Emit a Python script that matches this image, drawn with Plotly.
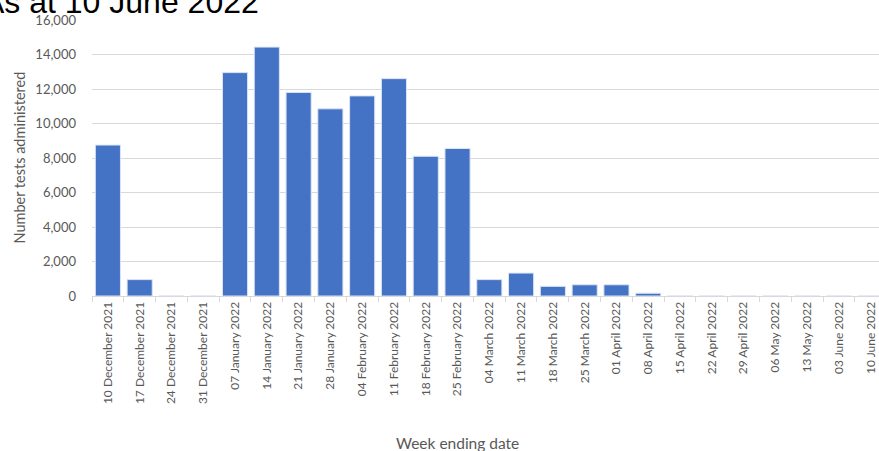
import plotly.graph_objects as go

weeks = ["10 December 2021", "17 December 2021", "24 December 2021", "31 December 2021",
         "07 January 2022", "14 January 2022", "21 January 2022", "28 January 2022",
         "04 February 2022", "11 February 2022", "18 February 2022", "25 February 2022",
         "04 March 2022", "11 March 2022", "18 March 2022", "25 March 2022",
         "01 April 2022", "08 April 2022", "15 April 2022", "22 April 2022",
         "29 April 2022", "06 May 2022", "13 May 2022", "03 June 2022", "10 June 2022"]
tests = [8750, 950, 0, 0,
         12950, 14430, 11800, 10850,
         11600, 12600, 8100, 8550,
         950, 1330, 560, 650,
         650, 160, 0, 0,
         0, 0, 0, 0, 0]
title_text = "As at 10 June 2022"

W, H = 879, 451
L, R, T, B = 91.5, 0, 20, 155
pw = W - L - R
ph = H - T - B

def px_x(x):
    return (x - L) / pw

def px_y(y):
    return (H - B - y) / ph

fam = "Lato, 'Open Sans', sans-serif"
grey = "#595959"

fig = go.Figure(go.Bar(
    x=weeks, y=tests,
    marker=dict(color="#4472C4", line=dict(color="#dbe4f5", width=1)),
))

fig.update_layout(
    width=W, height=H,
    margin=dict(l=L, r=R, t=T, b=B, pad=0),
    plot_bgcolor="white", paper_bgcolor="white",
    bargap=0.21,
    showlegend=False,
    xaxis=dict(
        type="category",
        range=[-0.5, 24.26],
        tickson="boundaries",
        ticks="outside", ticklen=5, tickcolor="#d9d9d9",
        showgrid=False,
        showline=True, linecolor="#d9d9d9", linewidth=1,
        tickangle=-90,
        tickfont=dict(family=fam, size=12, color=grey),
    ),
    yaxis=dict(
        range=[0, 16000],
        dtick=2000,
        tickformat=",d",
        showgrid=True, gridcolor="#d9d9d9", gridwidth=1,
        zeroline=False,
        showline=False,
        ticks="",
        tickfont=dict(family=fam, size=13, color=grey),
        ticklabelstandoff=15,
    ),
    annotations=[
        dict(text="Number tests administered", xref="paper", yref="paper",
             x=px_x(18), y=0.5, textangle=-90, showarrow=False,
             xanchor="center", yanchor="middle",
             font=dict(family=fam, size=14.5, color=grey)),
        dict(text="Week ending date", xref="paper", yref="paper",
             x=px_x(457), y=px_y(443), showarrow=False,
             xanchor="center", yanchor="middle",
             font=dict(family=fam, size=15.5, color=grey)),
        dict(text=title_text, xref="paper", yref="paper",
             x=px_x(261), y=px_y(22), showarrow=False,
             xanchor="right", yanchor="bottom",
             font=dict(family="'Liberation Sans', Arial, sans-serif", size=32, color="#000000")),
    ],
)

fig.write_html("out.html", config={"displayModeBar": False},
               post_script="document.body.style.margin='0';document.body.style.overflow='hidden';")
